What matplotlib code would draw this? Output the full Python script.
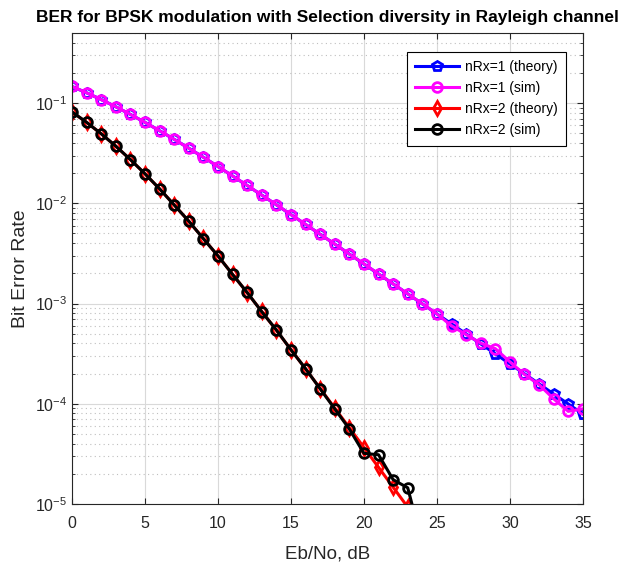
import numpy as np
import matplotlib
matplotlib.use("Agg")
import matplotlib.pyplot as plt
from matplotlib.ticker import LogLocator, NullFormatter

plt.rcParams['font.family'] = ['Liberation Sans', 'DejaVu Sans']

# Eb/No points (dB)
ebno_db = list(range(0, 36))

# nRx=1 theory
ber_theory_1 = [0.1465, 0.1267, 0.1085, 0.0919, 0.0771, 0.0642, 0.0530, 0.0435,
                0.0355, 0.0288, 0.0233, 0.01875, 0.01507, 0.01208, 0.00967,
                0.00772, 0.00616, 0.00491, 0.00392, 0.00312, 0.00248, 0.00197,
                0.00157, 0.00125, 0.000992, 0.000789, 0.000627, 0.000498,
                0.000396, 0.000315, 0.000250, 0.000199, 0.000158, 0.000125,
                0.0000995, 0.0000791]

# nRx=1 simulation
ber_sim_1 = [0.1466, 0.1268, 0.1083, 0.0920, 0.0771, 0.0642, 0.0530, 0.0435,
             0.0354, 0.0288, 0.0233, 0.01873, 0.01509, 0.01206, 0.00969,
             0.00771, 0.00617, 0.00490, 0.00392, 0.00311, 0.00249, 0.00197,
             0.00157, 0.00125, 0.000995, 0.000788, 0.000600, 0.000490,
             0.000402, 0.000355, 0.000262, 0.000196, 0.000155, 0.000112,
             0.0000840, 0.0000890]

# nRx=2 selection diversity theory
ber_theory_2 = [0.0816, 0.0642, 0.0494, 0.0372, 0.0273, 0.0197, 0.01393, 0.00966,
                0.00661, 0.00446, 0.00298, 0.00196, 0.00128, 0.000835, 0.000540,
                0.000347, 0.000223, 0.000142, 0.0000905, 0.0000576, 0.0000366,
                0.0000232, 0.0000147, 0.0000093, 0.0000059, 0.0000038,
                0.0000024, 0.0000015, 0.00000094, 0.00000059, 0.00000038,
                0.00000024, 0.00000015, 0.000000094, 0.000000059, 0.000000038]

# nRx=2 simulation (nothing counted past 24 dB)
ebno_db_sim2 = list(range(0, 25))
ber_sim_2 = [0.0816, 0.0643, 0.0494, 0.0372, 0.0273, 0.0197, 0.01395, 0.00962,
             0.00664, 0.00443, 0.00299, 0.00195, 0.00129, 0.000828, 0.000546,
             0.000345, 0.000224, 0.000141, 0.0000890, 0.0000560, 0.0000320,
             0.0000310, 0.0000175, 0.0000145, 0.0000040]

legend_labels = ['nRx=1 (theory)', 'nRx=1 (sim)', 'nRx=2 (theory)', 'nRx=2 (sim)']

fig = plt.figure(figsize=(6.23, 5.64), dpi=100)
ax = fig.add_axes([0.1156, 0.1064, 0.820, 0.835])

mk = dict(markersize=7, markeredgewidth=2, markerfacecolor='none', linewidth=2.2)
ax.semilogy(ebno_db, ber_theory_1, 'p-', color='#0000ff', label=legend_labels[0], **mk)
ax.semilogy(ebno_db, ber_sim_1, 'o-', color='#ff00ff', label=legend_labels[1], **mk)
ax.semilogy(ebno_db, ber_theory_2, 'd-', color='#ff0000', label=legend_labels[2], **mk)
ax.semilogy(ebno_db_sim2, ber_sim_2, 'o-', color='#000000', label=legend_labels[3], **mk)

ax.set_xlim(0, 35)
ax.set_ylim(1e-5, 0.5)
ax.set_xticks(range(0, 36, 5))
ax.yaxis.set_major_locator(LogLocator(base=10, numticks=10))
ax.yaxis.set_minor_locator(LogLocator(base=10, subs=np.arange(2, 10), numticks=20))
ax.yaxis.set_minor_formatter(NullFormatter())

ax.grid(True, which='major', color='#d9d9d9', linestyle='-', linewidth=0.8)
ax.grid(True, which='minor', axis='y', color='#bfbfbf', linestyle=(0, (1, 3)), linewidth=0.8)
ax.set_axisbelow(True)

ax.tick_params(which='both', direction='in', top=True, right=True, colors='#262626',
               labelcolor='#262626', labelsize=11.5)
ax.tick_params(which='major', length=4)
ax.tick_params(which='minor', length=2)
ax.tick_params(axis='x', pad=9)
for s in ax.spines.values():
    s.set_color('#262626')
    s.set_linewidth(0.8)

ax.set_title('BER for BPSK modulation with Selection diversity in Rayleigh channel',
             fontsize=12.5, fontweight='bold', pad=8)
ax.set_xlabel('Eb/No, dB', fontsize=13.5, color='#262626', labelpad=10)
ax.set_ylabel('Bit Error Rate', fontsize=14, color='#262626', labelpad=4)

leg = ax.legend(loc='upper right', bbox_to_anchor=(0.9085, 0.9078),
                bbox_transform=fig.transFigure, borderaxespad=0, fontsize=10,
                fancybox=False, framealpha=1, edgecolor='black', handlelength=3.2,
                labelspacing=0.5, borderpad=0.6, handletextpad=0.4)
leg.get_frame().set_linewidth(0.8)

plt.savefig('out.png', dpi=100)
